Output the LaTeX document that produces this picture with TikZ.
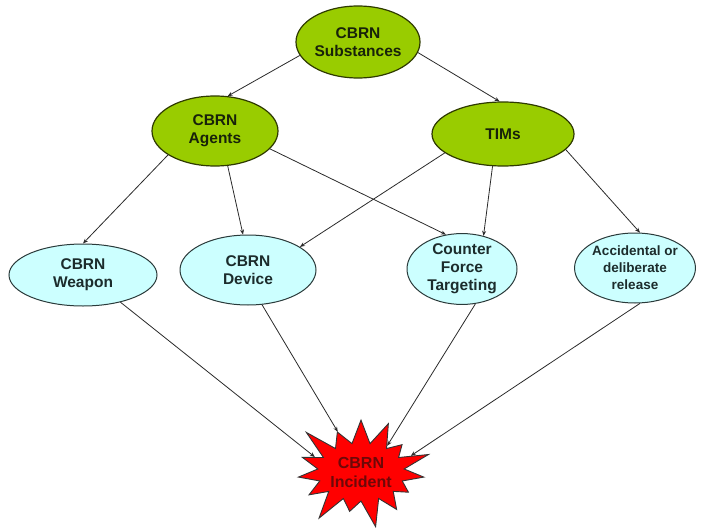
\documentclass[tikz,border=0pt]{standalone}
\usepackage{fontspec}
\setmainfont{Liberation Sans}
\usetikzlibrary{shapes.geometric,shapes.symbols,arrows.meta}
\definecolor{grnfill}{HTML}{99CC00}
\definecolor{grnedge}{HTML}{2E3A00}
\definecolor{grntext}{HTML}{18220A}
\definecolor{cyanfill}{HTML}{CCFFFF}
\definecolor{cyanedge}{HTML}{2A3A3A}
\definecolor{cyantext}{HTML}{1C2C2C}
\definecolor{linec}{HTML}{2A2A2A}
\definecolor{inctext}{HTML}{6E0808}
\tikzset{
  lbl/.style={font=\fontsize{15.5}{18}\selectfont\bfseries, align=center, inner sep=0pt},
  grn/.style={lbl, ellipse, draw=grnedge, line width=1.2pt, fill=grnfill, text=grntext},
  cyn/.style={lbl, ellipse, draw=cyanedge, line width=1pt, fill=cyanfill, text=cyantext},
  conn/.style={draw=linec, line width=0.8pt, -{Stealth[length=5pt,width=4pt]}},
  burst/.style={lbl, shape=starburst, starburst points=15, starburst point height=32pt,
    random starburst=100, draw=black!80, line width=0.9pt, fill=red, text=inctext,
    font=\fontsize{16}{19}\selectfont\bfseries}
}
\begin{document}
\begin{tikzpicture}[x=1pt,y=-1pt]
\useasboundingbox (0,0) rectangle (706,532);
\node[grn, minimum width=124pt, minimum height=72pt] (subst) at (358,42) {CBRN\\Substances};
\node[grn, minimum width=126pt, minimum height=70pt] (agents) at (215,131) {CBRN\\Agents};
\node[grn, minimum width=142pt, minimum height=64pt] (tims) at (503,134) {TIMs};
\node[cyn, minimum width=148pt, minimum height=62pt] (weapon) at (83,275) {CBRN\\Weapon};
\node[cyn, minimum width=136pt, minimum height=70pt] (device) at (248,270) {CBRN\\Device};
\node[cyn, minimum width=110pt, minimum height=68pt] (counter) at (462,269) {Counter\\Force\\Targeting};
\node[cyn, minimum width=120pt, minimum height=70pt, font=\fontsize{13.5}{17}\selectfont\bfseries] (accid) at (635,268) {Accidental or\\deliberate\\release};
\node[burst, minimum width=146pt, minimum height=122pt] (inc) at (361,472) {CBRN\\Incident};

\draw[conn] (subst.193) -- (agents.70);
\draw[conn] (subst.350) -- (tims.96);
\draw[conn] (agents.207) -- (weapon.90);
\draw[conn] (agents.290) -- (device.98);
\draw[conn] (agents.342) -- (counter.115);
\draw[conn] (tims.198) -- (device.24);
\draw[conn] (tims.252) -- (counter.57);
\draw[conn] (tims.346) -- (accid.82);
\draw[conn] (weapon.324) -- (inc.162);
\draw[conn] (device.292) -- (inc.120);
\draw[conn] (counter.291) -- (inc.45);
\draw[conn] (accid.278) -- (inc.18);
\end{tikzpicture}
\end{document}
